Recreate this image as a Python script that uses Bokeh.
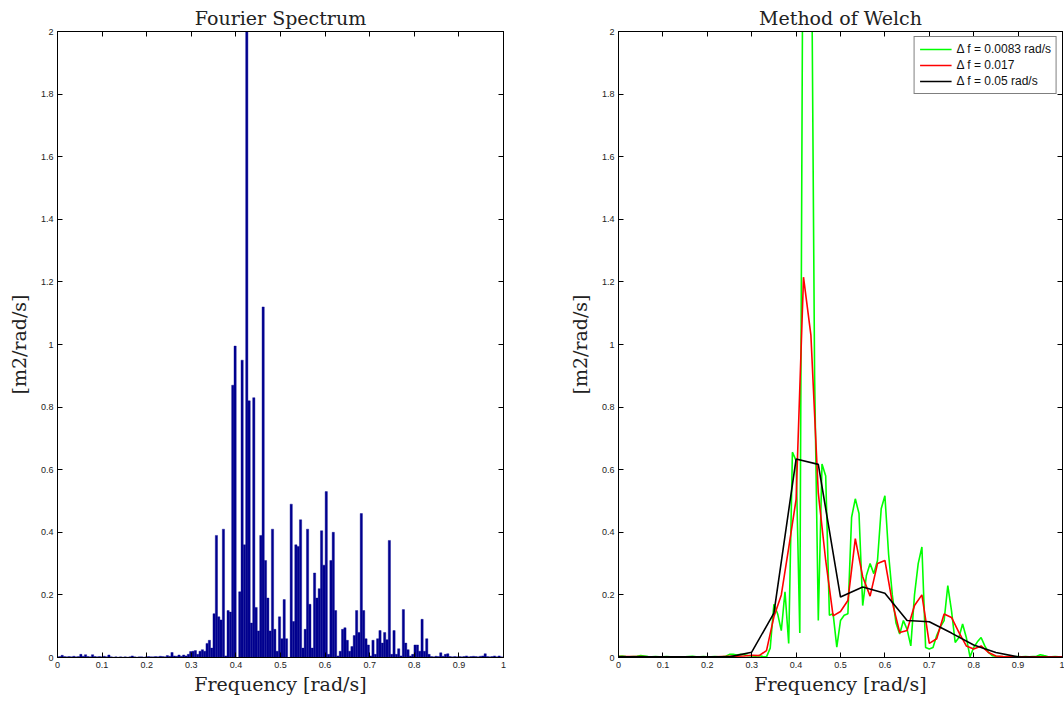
from bokeh.plotting import figure
from bokeh.models import (Range1d, LinearAxis, FixedTicker, CustomJSTickFormatter,
                          Legend, LegendItem, ColumnDataSource)
from bokeh.layouts import row
from bokeh.embed import file_html
from bokeh.resources import INLINE

# ---------------- data ----------------
x_ticks = [0, 0.1, 0.2, 0.3, 0.4, 0.5, 0.6, 0.7, 0.8, 0.9, 1.0]
y_ticks = [0, 0.2, 0.4, 0.6, 0.8, 1.0, 1.2, 1.4, 1.6, 1.8, 2.0]

# Fourier spectrum: bin spacing and amplitudes per bin
fourier_df = 0.00524
fourier_amp = [
    0.002, 0.003, 0.007, 0.003, 0.002, 0.003, 0.002, 0.004, 0.002, 0.003,
    0.010, 0.004, 0.009, 0.003, 0.002, 0.009, 0.003, 0.002, 0.003, 0.002,
    0.004, 0.002, 0.008, 0.002, 0.001, 0.002, 0.001, 0.002, 0.001, 0.002,
    0.001, 0.002, 0.005, 0.002, 0.001, 0.002, 0.002, 0.001, 0.002, 0.003,
    0.002, 0.002, 0.003, 0.002, 0.004, 0.003, 0.002, 0.006, 0.004, 0.016,
    0.005, 0.004, 0.008, 0.004, 0.008, 0.005, 0.010, 0.019,
    0.020, 0.022, 0.010, 0.020, 0.025, 0.020, 0.045, 0.055, 0.030, 0.140,
    0.390, 0.130, 0.120, 0.410, 0.005, 0.150, 0.145, 0.870, 0.995, 0.000,
    0.210, 0.950, 0.360, 3.200, 0.820, 0.110, 0.830, 0.160, 0.085, 0.390,
    1.120, 0.310, 0.190, 0.085, 0.410, 0.090, 0.020, 0.130, 0.060, 0.185,
    0.060, 0.000, 0.490, 0.115, 0.360, 0.355, 0.440, 0.030, 0.090, 0.410,
    0.170, 0.030, 0.270, 0.190, 0.220, 0.405, 0.295, 0.530, 0.010, 0.310,
    0.400, 0.150, 0.005, 0.020, 0.090, 0.095, 0.055, 0.020, 0.035, 0.070,
    0.150, 0.080, 0.460, 0.150, 0.060, 0.040, 0.005, 0.055, 0.010, 0.060,
    0.086, 0.046, 0.080, 0.057, 0.374, 0.010, 0.086, 0.010, 0.028, 0.005,
    0.153, 0.046, 0.025, 0.005, 0.010, 0.040, 0.040, 0.020, 0.122, 0.020,
    0.060, 0.010,
    0.003, 0.002, 0.004, 0.003, 0.015, 0.004, 0.010, 0.012, 0.003, 0.002,
    0.003, 0.002, 0.003, 0.002, 0.003, 0.005, 0.002, 0.003, 0.004, 0.003,
    0.002, 0.004, 0.005, 0.012, 0.003, 0.002, 0.003, 0.005, 0.002, 0.005,
    0.002,
]
fourier_freq = [round(i * fourier_df, 5) for i in range(len(fourier_amp))]

# Welch estimates (three resolutions)
welch_green_df = 1 / 120
welch_green = [
    0.004, 0.005, 0.003, 0.002, 0.003, 0.004, 0.006, 0.005, 0.003, 0.002,
    0.003, 0.002, 0.002, 0.003, 0.002, 0.002, 0.001, 0.002, 0.002, 0.003,
    0.004, 0.002, 0.002, 0.003, 0.002, 0.002, 0.003, 0.002, 0.002, 0.004,
    0.010, 0.010, 0.008, 0.010, 0.009, 0.006, 0.005, 0.004, 0.006, 0.003,
    0.002, 0.030, 0.170, 0.140, 0.086, 0.210, 0.045, 0.656, 0.629, 0.078,
    2.800, 2.300, 2.600, 0.900, 0.118, 0.618, 0.580, 0.135, 0.140, 0.033,
    0.118, 0.135, 0.140, 0.448, 0.507, 0.460, 0.166, 0.262, 0.300, 0.268,
    0.310, 0.475, 0.517, 0.330, 0.200, 0.110, 0.075, 0.118, 0.090, 0.037,
    0.200, 0.300, 0.353, 0.032, 0.027, 0.032, 0.070, 0.098, 0.118, 0.230,
    0.150, 0.048, 0.064, 0.107, 0.064, 0.002, 0.032, 0.050, 0.064, 0.037,
    0.016, 0.006, 0.004, 0.003, 0.002, 0.003, 0.002, 0.002, 0.003, 0.002,
    0.003, 0.002, 0.003, 0.004, 0.009, 0.006, 0.003, 0.002, 0.003, 0.002,
    0.002,
]
welch_red_df = 1 / 60
welch_red = [
    0.003, 0.003, 0.003, 0.003, 0.002, 0.002, 0.002, 0.002, 0.002, 0.002,
    0.002, 0.002, 0.002, 0.002, 0.003, 0.004, 0.004, 0.005, 0.007, 0.006,
    0.022, 0.130, 0.200, 0.350, 0.505, 1.215, 1.030, 0.525, 0.310, 0.133,
    0.147, 0.182, 0.380, 0.258, 0.196, 0.300, 0.310, 0.176, 0.080, 0.086,
    0.166, 0.200, 0.045, 0.060, 0.139, 0.128, 0.080, 0.037, 0.027, 0.037,
    0.016, 0.005, 0.003, 0.002, 0.002, 0.002, 0.002, 0.002, 0.002, 0.002,
    0.002,
]
welch_black_df = 0.05
welch_black = [
    0.002, 0.002, 0.002, 0.002, 0.002, 0.002, 0.017, 0.142, 0.634, 0.617,
    0.193, 0.225, 0.205, 0.118, 0.114, 0.078, 0.040, 0.016, 0.002, 0.001,
    0.001,
]
legend_labels = ["\u0394 f = 0.0083 rad/s", "\u0394 f = 0.017", "\u0394 f = 0.05 rad/s"]

SERIF = "DejaVu Serif"
SANS = "Liberation Sans"

fmt_code = "return String(Math.round(tick*10)/10);"


def make_fig(title, width, left, right):
    p = figure(width=width, height=700, output_backend="svg", toolbar_location=None,
               x_range=Range1d(0, 1), y_range=Range1d(0, 2),
               min_border_left=left, min_border_right=right,
               min_border_top=31, min_border_bottom=43,
               background_fill_color="white", border_fill_color="white")
    p.title.text = title
    p.title.text_font = SERIF
    p.title.text_font_size = "19px"
    p.title.text_font_style = "normal"
    p.title.text_color = "#222222"
    p.title.align = "center"
    p.title.standoff = 6
    p.xgrid.visible = False
    p.ygrid.visible = False
    p.outline_line_color = "black"
    p.outline_line_width = 1

    for ax, ticks in ((p.xaxis[0], x_ticks), (p.yaxis[0], y_ticks)):
        ax.ticker = FixedTicker(ticks=ticks)
        ax.formatter = CustomJSTickFormatter(code=fmt_code)
        ax.major_tick_in = 5
        ax.major_tick_out = 0
        ax.minor_tick_in = 0
        ax.minor_tick_out = 0
        ax.axis_line_color = "black"
        ax.major_tick_line_color = "black"
        ax.major_label_text_font = SANS
        ax.major_label_text_font_size = "9px"
        ax.major_label_text_color = "#222222"
        ax.major_label_standoff = 4
        ax.axis_label_text_font = SERIF
        ax.axis_label_text_font_size = "19px"
        ax.axis_label_text_font_style = "normal"
        ax.axis_label_text_color = "#222222"
    p.xaxis[0].axis_label = "Frequency [rad/s]"
    p.xaxis[0].axis_label_standoff = 2
    p.yaxis[0].axis_label = "[m2/rad/s]"
    p.yaxis[0].axis_label_standoff = 8

    for loc, ticks in (("above", x_ticks), ("right", y_ticks)):
        ax = LinearAxis(ticker=FixedTicker(ticks=ticks),
                        formatter=CustomJSTickFormatter(code="return '';"))
        ax.major_tick_in = 5
        ax.major_tick_out = 0
        ax.minor_tick_in = 0
        ax.minor_tick_out = 0
        ax.major_label_text_font_size = "0px"
        ax.major_label_standoff = 0
        ax.axis_line_color = "black"
        p.add_layout(ax, loc)
    return p


# ---------------- left: Fourier spectrum ----------------
p1 = make_fig("Fourier Spectrum", 558, 57, 55)
src1 = ColumnDataSource(dict(x=fourier_freq, top=fourier_amp))
p1.vbar(x="x", top="top", width=fourier_df * 0.95, bottom=0, source=src1,
        fill_color="#00008F", line_color="#00008F", line_width=0.4)

# ---------------- right: Welch ----------------
p2 = make_fig("Method of Welch", 506, 60, 2)
series = [
    (welch_green, welch_green_df, "#00FF00"),
    (welch_red, welch_red_df, "#FF0000"),
    (welch_black, welch_black_df, "#000000"),
]
items = []
for (vals, df, col), lab in zip(series, legend_labels):
    xs = [round(i * df, 5) for i in range(len(vals))]
    r = p2.line(xs, vals, line_color=col, line_width=1.6)
    items.append(LegendItem(label=lab, renderers=[r]))

legend = Legend(items=items, location="top_right")
legend.label_text_font = SANS
legend.label_text_font_size = "12px"
legend.label_text_color = "#111111"
legend.glyph_width = 32
legend.glyph_height = 14
legend.label_height = 14
legend.spacing = 2
legend.padding = 5
legend.margin = 5
legend.label_standoff = 5
legend.border_line_color = "black"
legend.border_line_width = 1
legend.background_fill_alpha = 1
p2.add_layout(legend)

layout = row(p1, p2)
open("out.html", "w").write(file_html(layout, INLINE))
